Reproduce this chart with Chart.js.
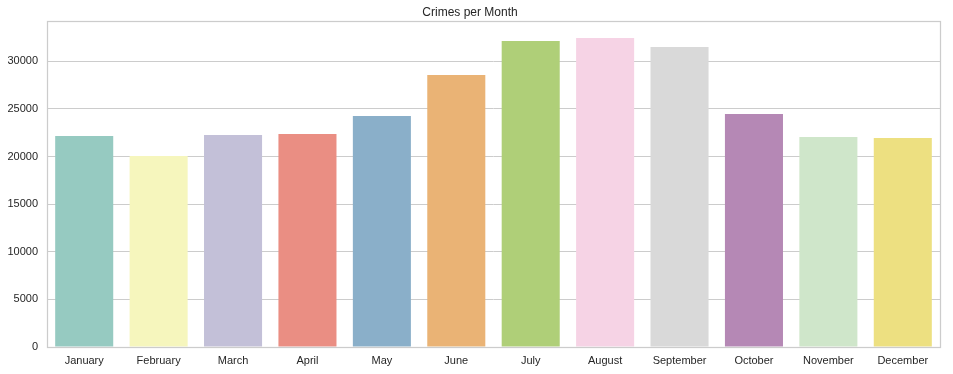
<!DOCTYPE html>
<html>
<head>
<meta charset="utf-8">
<script src="https://cdn.jsdelivr.net/npm/chart.js@4/dist/chart.umd.min.js"></script>
<style>
html,body{margin:0;padding:0;background:#fff;}
#wrap{width:953px;height:374px;}
</style>
</head>
<body>
<div id="wrap"><canvas id="c" width="953" height="374"></canvas></div>
<script>
const months = ["January","February","March","April","May","June","July","August","September","October","November","December"];
const crimes = [22150, 20050, 22260, 22370, 24260, 28560, 32130, 32450, 31500, 24470, 22050, 21950];
const barColors = ["#96cac1","#f6f6bd","#c3c0d8","#ea8e83","#8aafc9","#eab375","#afcf78","#f6d3e5","#d9d9d9","#b588b5","#cfe6ca","#ede081"];
const yTicks = [0, 5000, 10000, 15000, 20000, 25000, 30000];

const frame = {
  id: 'frame',
  afterDraw(chart) {
    const a = chart.chartArea, ctx = chart.ctx;
    ctx.save();
    ctx.strokeStyle = '#cccccc';
    ctx.lineWidth = 1.25;
    ctx.strokeRect(Math.round(a.left) + 0.5, Math.round(a.top) + 0.5, Math.round(a.right - a.left), Math.round(a.bottom - a.top));
    ctx.restore();
  }
};

new Chart(document.getElementById('c'), {
  type: 'bar',
  data: {
    labels: months,
    datasets: [{
      data: crimes,
      backgroundColor: barColors,
      borderWidth: 0,
      barPercentage: 0.78,
      categoryPercentage: 1.0
    }]
  },
  options: {
    responsive: false,
    animation: false,
    layout: { padding: { left: 0, right: 13, top: 0, bottom: 0 } },
    plugins: {
      legend: { display: false },
      tooltip: { enabled: false },
      title: {
        display: true,
        text: 'Crimes per Month',
        color: '#262626',
        font: { family: 'Liberation Sans, Arial, sans-serif', size: 12, weight: 'normal' },
        padding: { top: 5, bottom: 2 }
      }
    },
    scales: {
      x: {
        grid: { display: false, drawTicks: false },
        border: { display: false },
        ticks: { color: '#262626', padding: 7, font: { family: 'Liberation Sans, Arial, sans-serif', size: 11 }, maxRotation: 0, autoSkip: false },
        afterFit(s) { s.height = 27; }
      },
      y: {
        min: 0,
        max: 34200,
        afterBuildTicks(s) { s.ticks = yTicks.map(v => ({ value: v })); },
        grid: { color: '#cccccc', lineWidth: 1, drawTicks: false },
        border: { display: false },
        ticks: { color: '#262626', padding: 9, font: { family: 'Liberation Sans, Arial, sans-serif', size: 11 }, callback: v => String(v) },
        afterFit(s) { s.width = 47; }
      }
    }
  },
  plugins: [frame]
});
</script>
</body>
</html>
